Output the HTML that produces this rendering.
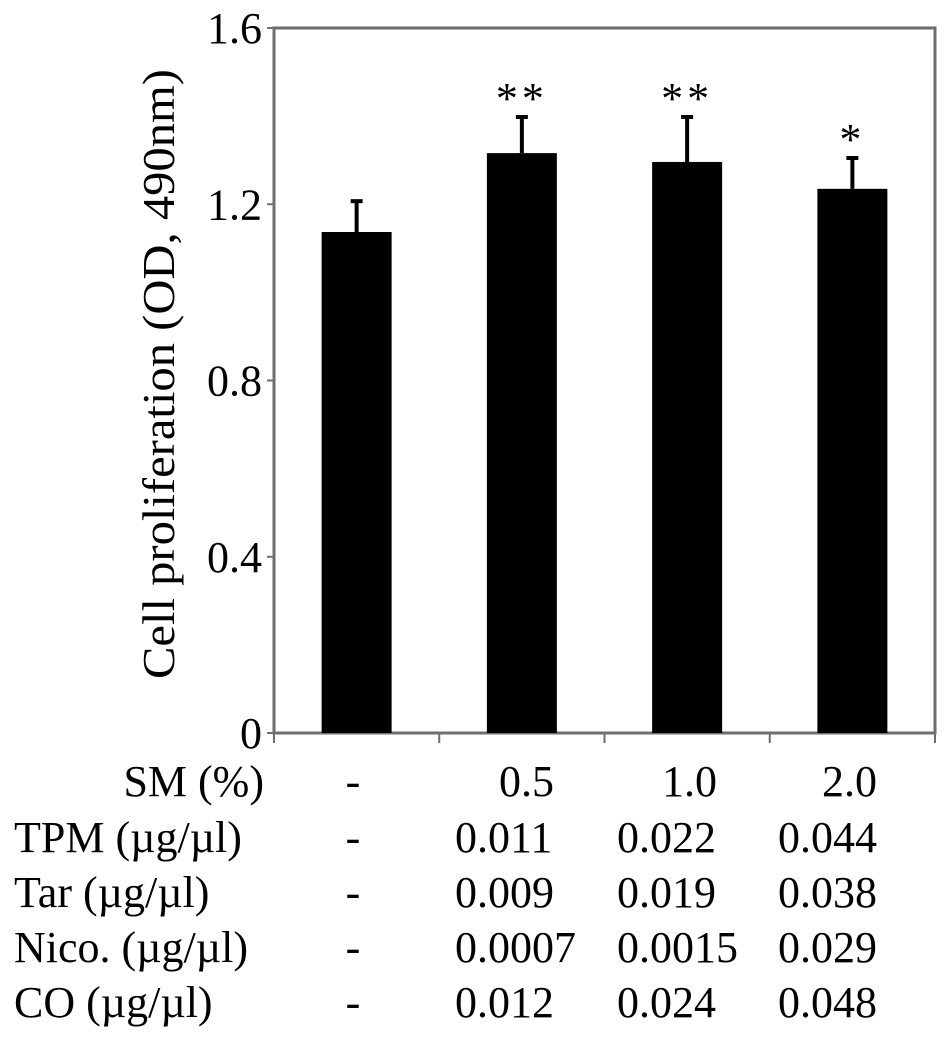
<!DOCTYPE html>
<html><head><meta charset="utf-8"><style>
html,body{margin:0;padding:0;background:#fff}
svg{display:block;font-family:"Liberation Serif","DejaVu Serif",serif}
</style></head><body>
<svg id="chart" width="945" height="1039" viewBox="0 0 945 1039" xmlns="http://www.w3.org/2000/svg">
<g id="plot"></g>
<text transform="translate(174,374) rotate(-90)" text-anchor="middle" font-size="46" textLength="610" lengthAdjust="spacingAndGlyphs">Cell proliferation (OD, 490nm)</text>
<g id="table"></g>
</svg>
<script>
const categories = ["control", "SM 0.5", "SM 1.0", "SM 2.0"];
const means = [1.137, 1.316, 1.296, 1.235];
const errors = [0.070, 0.082, 0.102, 0.070];
const sigMarks = ["", "**", "**", "*"];
const yTicks = [0, 0.4, 0.8, 1.2, 1.6];
const yTickLabels = ["0", "0.4", "0.8", "1.2", "1.6"];
const rowLabels = ["SM (%)", "TPM (\u00b5g/\u00b5l)", "Tar (\u00b5g/\u00b5l)", "Nico. (\u00b5g/\u00b5l)", "CO (\u00b5g/\u00b5l)"];
const smValues = ["-", "0.5", "1.0", "2.0"];
const tpmValues = ["-", "0.011", "0.022", "0.044"];
const tarValues = ["-", "0.009", "0.019", "0.038"];
const nicoValues = ["-", "0.0007", "0.0015", "0.029"];
const coValues = ["-", "0.012", "0.024", "0.048"];

const NS = "http://www.w3.org/2000/svg";
const L = 274, R = 935, T = 28, B = 733, yMax = 1.6;
const y = v => B - (v / yMax) * (B - T);
const band = (R - L) / categories.length;
const xc = i => L + band * (i + 0.5);
const barW = 70;
function mk(tag, attrs, parent) {
  const e = document.createElementNS(NS, tag);
  for (const k in attrs) e.setAttribute(k, attrs[k]);
  parent.appendChild(e);
  return e;
}
const plot = document.getElementById("plot");
const frame = mk("rect", {x: L, y: T, width: R - L, height: B - T, fill: "none", stroke: "#6e6e6e", "stroke-width": 3}, plot);



yTicks.forEach((v, i) => {
  const t = mk("line", {x1: L - 7, x2: L, y1: y(v), y2: y(v), stroke: "#6e6e6e", "stroke-width": 2}, plot);
  
  
  const lb = mk("text", {x: L - 12, y: y(v) + 15, "text-anchor": "end", "font-size": 44}, plot);
  lb.textContent = yTickLabels[i];
  
  
});
for (let i = 0; i <= categories.length; i++) {
  const t = mk("line", {x1: L + band * i, x2: L + band * i, y1: B, y2: B + 10, stroke: "#6e6e6e", "stroke-width": 2}, plot);
  
  
}
categories.forEach((c, i) => {
  const cx = xc(i);
  const top = y(means[i]), eTop = y(means[i] + errors[i]);
  const eb = mk("line", {x1: cx, x2: cx, y1: top, y2: eTop, stroke: "#000", "stroke-width": 4}, plot);
  
  
  const cap = mk("line", {x1: cx - 6, x2: cx + 6, y1: eTop, y2: eTop, stroke: "#000", "stroke-width": 4}, plot);
  
  
  const bar = mk("rect", {x: cx - barW / 2, y: top, width: barW, height: B - top, fill: "#000"}, plot);
  
  
  if (sigMarks[i]) {
    const s = mk("text", {x: cx, y: eTop - 4, "text-anchor": "middle", "font-size": 44, "letter-spacing": "4"}, plot);
    s.textContent = sigMarks[i];
    
    
  }
});

const table = document.getElementById("table");
const rows = [smValues, tpmValues, tarValues, nicoValues, coValues];
const baselines = [796, 852, 907, 962, 1017];
rows.forEach((vals, r) => {
  const lab = mk("text", {x: r === 0 ? 264 : 14, y: baselines[r], "text-anchor": r === 0 ? "end" : "start", "font-size": 44}, table);
  lab.textContent = rowLabels[r];
  
  
  vals.forEach((v, c) => {
    let attrs;
    if (c === 0) attrs = {x: 353, "text-anchor": "middle"};
    else if (r === 0) attrs = {x: [0, 554, 717, 877][c], "text-anchor": "end"};
    else attrs = {x: [0, 455, 617, 778][c], "text-anchor": "start"};
    attrs.y = baselines[r];
    attrs["font-size"] = 44;
    const t = mk("text", attrs, table);
    t.textContent = v;
    
    
  });
});
</script>
</body></html>
